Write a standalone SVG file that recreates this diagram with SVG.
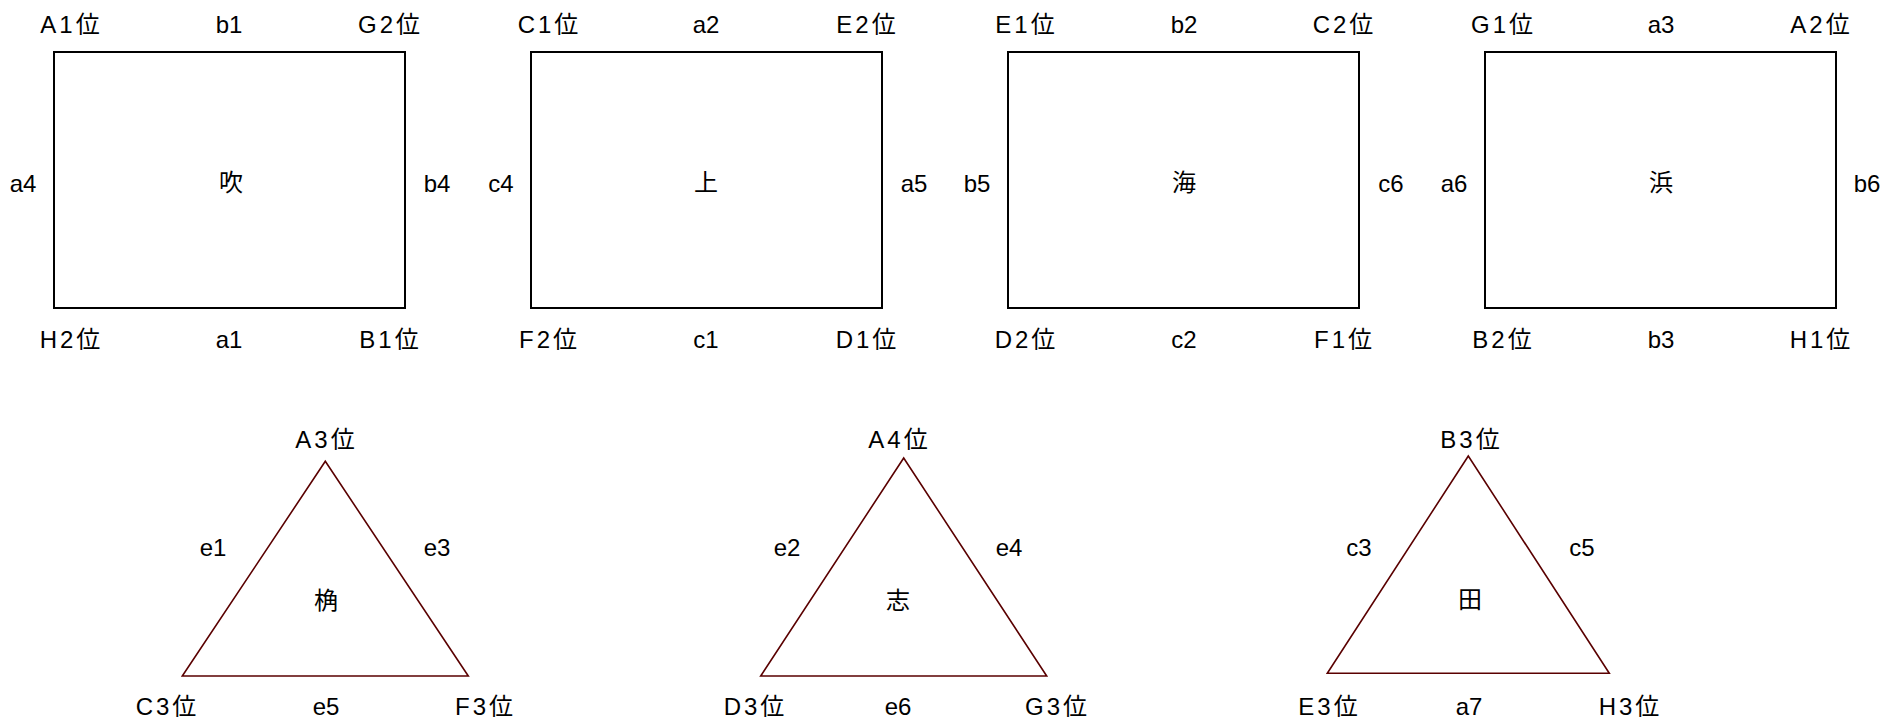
<svg xmlns="http://www.w3.org/2000/svg" width="1884" height="718" viewBox="0 0 1884 718">
<style>
text{font-family:"Liberation Sans","Noto Sans CJK JP",sans-serif;font-size:24px;fill:#000;text-anchor:middle}
.p{letter-spacing:3px}
.r{fill:#fff;stroke:#000;stroke-width:2}
.t{fill:#fff;stroke:#5a0000;stroke-width:1.6;stroke-linejoin:miter}
</style>
<rect width="1884" height="718" fill="#fff"/>
<g id="connectors"></g>
<g id="node-fuki">
<rect class="r" x="54" y="52" width="351" height="256"/>
<text class="p" x="71.5" y="33">A1位</text><text x="229" y="33">b1</text><text class="p" x="390.5" y="33">G2位</text>
<text x="23" y="192">a4</text><text x="231" y="191">吹</text><text x="437" y="192">b4</text>
<text class="p" x="71.5" y="348">H2位</text><text x="229" y="348">a1</text><text class="p" x="390.5" y="348">B1位</text>
</g>
<g id="node-kami">
<rect class="r" x="531" y="52" width="351" height="256"/>
<text class="p" x="549.5" y="33">C1位</text><text x="706" y="33">a2</text><text class="p" x="867.5" y="33">E2位</text>
<text x="501" y="192">c4</text><text x="706" y="191">上</text><text x="914" y="192">a5</text>
<text class="p" x="549.5" y="348">F2位</text><text x="706" y="348">c1</text><text class="p" x="867.5" y="348">D1位</text>
</g>
<g id="node-umi">
<rect class="r" x="1008" y="52" width="351" height="256"/>
<text class="p" x="1026.5" y="33">E1位</text><text x="1184" y="33">b2</text><text class="p" x="1344.5" y="33">C2位</text>
<text x="977" y="192">b5</text><text x="1184" y="191">海</text><text x="1391" y="192">c6</text>
<text class="p" x="1026.5" y="348">D2位</text><text x="1184" y="348">c2</text><text class="p" x="1344.5" y="348">F1位</text>
</g>
<g id="node-hama">
<rect class="r" x="1485" y="52" width="351" height="256"/>
<text class="p" x="1503.5" y="33">G1位</text><text x="1661" y="33">a3</text><text class="p" x="1821.5" y="33">A2位</text>
<text x="1454" y="192">a6</text><text x="1661" y="191">浜</text><text x="1867" y="192">b6</text>
<text class="p" x="1503.5" y="348">B2位</text><text x="1661" y="348">b3</text><text class="p" x="1821.5" y="348">H1位</text>
</g>
<g id="node-kaku">
<polygon class="t" points="325.3,461.3 182.3,676 468.3,676"/>
<text class="p" x="326.5" y="448">A3位</text>
<text x="213" y="556">e1</text><text x="437" y="556">e3</text>
<text x="326" y="609">桷</text>
<text class="p" x="167.5" y="715">C3位</text><text x="326" y="715">e5</text><text class="p" x="485.5" y="715">F3位</text>
</g>
<g id="node-shi">
<polygon class="t" points="903.7,458 760.7,676 1046.7,676"/>
<text class="p" x="899.5" y="448">A4位</text>
<text x="787" y="556">e2</text><text x="1009" y="556">e4</text>
<text x="898" y="609">志</text>
<text class="p" x="755.5" y="715">D3位</text><text x="898" y="715">e6</text><text class="p" x="1057.5" y="715">G3位</text>
</g>
<g id="node-ta">
<polygon class="t" points="1468.3,456 1327.3,673.3 1609.3,673.3"/>
<text class="p" x="1471.5" y="448">B3位</text>
<text x="1359" y="556">c3</text><text x="1582" y="556">c5</text>
<text x="1470" y="608">田</text>
<text class="p" x="1329.5" y="715">E3位</text><text x="1469" y="715">a7</text><text class="p" x="1630.5" y="715">H3位</text>
</g>
</svg>
